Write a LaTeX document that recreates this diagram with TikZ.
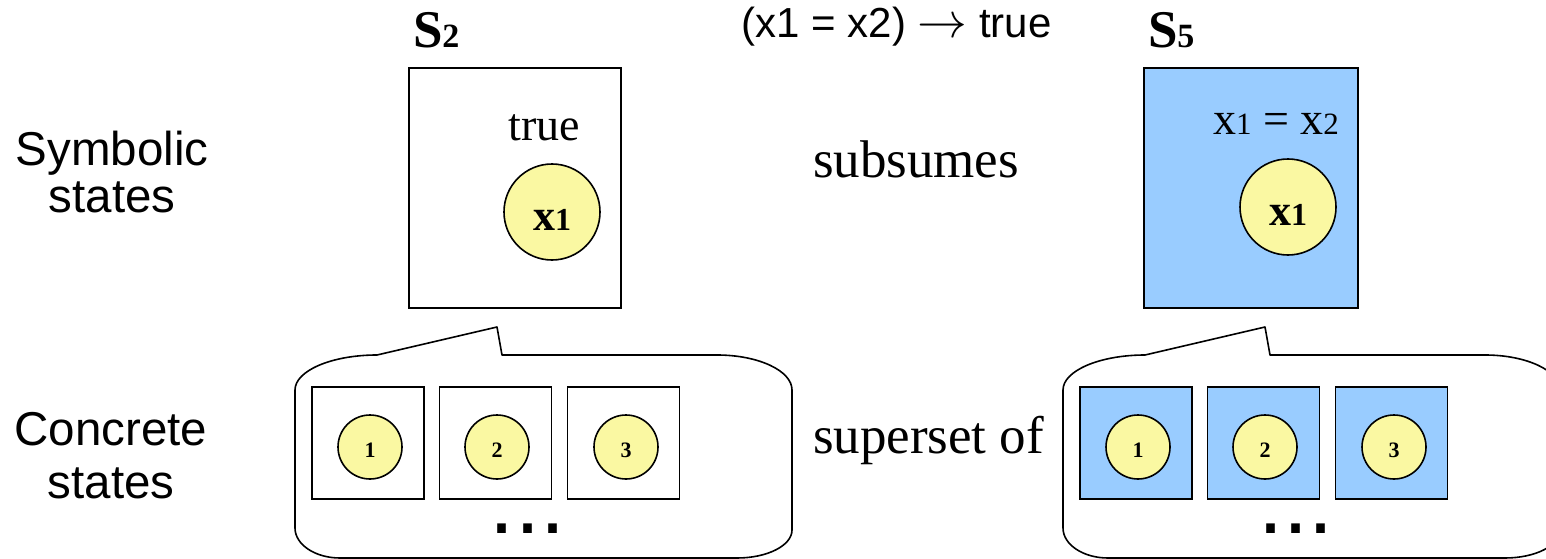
\documentclass[tikz,border=0pt]{standalone}
\usepackage{fontspec}
\usepackage{graphicx}
\setmainfont{Liberation Serif}
\newfontfamily\arialfont{Liberation Sans}
\definecolor{lblue}{HTML}{99CCFF}
\definecolor{lyellow}{HTML}{FAF8A2}
\tikzset{
  box/.style={draw, line width=1.6pt, inner sep=0pt},
  circ/.style={circle, draw, line width=1.6pt, fill=lyellow, inner sep=0pt},
  txt/.style={inner sep=0pt, outer sep=0pt},
  bubble/.style={draw, line width=1.6pt, line join=round},
}
\newcommand{\concretegroup}[3]{%
  \begin{scope}[xshift=#2]
    \draw[bubble] (295,390) .. controls (295,370.7) and (331.7,355) .. (377,355)
      -- (497,327) -- (502,355) -- (717,355)
      .. controls (758.4,355) and (792,370.7) .. (792,390) -- (792,530)
      .. controls (792,545.5) and (767.4,558) .. (737,558) -- (340,558)
      .. controls (315.2,558) and (295,544.6) .. (295,528) -- cycle;
    \node[box, fill=#3, minimum width=112pt, minimum height=112pt] (#1b1) at (368,443) {};
    \node[box, fill=#3, minimum width=112pt, minimum height=112pt] (#1b2) at (495.5,443) {};
    \node[box, fill=#3, minimum width=112pt, minimum height=112pt] (#1b3) at (623.5,443) {};
    \node[circ, minimum size=64pt] (#1c1) at (370,447) {};
    \node[circ, minimum size=64pt] (#1c2) at (497,447) {};
    \node[circ, minimum size=64pt] (#1c3) at (626,447) {};
    \node[txt, anchor=base] (#1n1) at (370,457) {\fontsize{22}{22}\selectfont\bfseries 1};
    \node[txt, anchor=base] (#1n2) at (497,457) {\fontsize{22}{22}\selectfont\bfseries 2};
    \node[txt, anchor=base] (#1n3) at (626,457) {\fontsize{22}{22}\selectfont\bfseries 3};
    \node[txt, anchor=base] (#1dots) at (527.5,533) {\arialfont\fontsize{90}{90}\selectfont ...};
  \end{scope}}
\begin{document}
\begin{tikzpicture}[x=1pt, y=-1pt]
\useasboundingbox (0,0) rectangle (1546,559);
\clip (0,0) rectangle (1546,559);
\fill[white] (0,0) rectangle (1546,559);

% left labels
\node[txt, anchor=base] (sym1) at (112,165) {\arialfont\fontsize{47.5}{47}\selectfont Symbolic};
\node[txt, anchor=base] (sym2) at (112,212) {\arialfont\fontsize{47.5}{47}\selectfont states};
\node[txt, anchor=base] (con1) at (111,445) {\arialfont\fontsize{47.5}{47}\selectfont Concrete};
\node[txt, anchor=base] (con2) at (111,498) {\arialfont\fontsize{47.5}{47}\selectfont states};

% symbolic state S2
\node[txt, anchor=base west] (s2lbl) at (413,48) {\fontsize{53}{53}\selectfont\bfseries S{\fontsize{34}{34}\selectfont 2}};
\node[box, anchor=north west, minimum width=212pt, minimum height=240pt] (s2box) at (408,67) {};
\node[txt, anchor=base] (s2true) at (544,140) {\fontsize{46}{46}\selectfont true};
\node[circ, minimum size=96pt] (s2c) at (552,212) {};
\node[txt, anchor=base] (s2x) at (552,230) {\fontsize{44}{44}\selectfont\bfseries x{\fontsize{32}{32}\selectfont 1}};

% symbolic state S5
\node[txt, anchor=base west] (s5lbl) at (1148,48) {\fontsize{53}{53}\selectfont\bfseries S{\fontsize{34}{34}\selectfont 5}};
\node[box, fill=lblue, anchor=north west, minimum width=214pt, minimum height=240pt] (s5box) at (1143,67) {};
\node[txt, anchor=base] (s5eq) at (1276,135) {\fontsize{46}{46}\selectfont x{\fontsize{31}{31}\selectfont 1} = x{\fontsize{31}{31}\selectfont 2}};
\node[circ, minimum size=96pt] (s5c) at (1288,207) {};
\node[txt, anchor=base] (s5x) at (1288,225) {\fontsize{44}{44}\selectfont\bfseries x{\fontsize{32}{32}\selectfont 1}};

% middle texts
\node[txt, anchor=base] (impl) at (896.5,38) {\arialfont\fontsize{42}{42}\selectfont (x1 = x2) \scalebox{2}{\fontsize{24.88}{24.88}\selectfont$\rightarrow$} true};
\node[txt, anchor=base west] (subs) at (813,177) {\fontsize{53}{53}\selectfont subsumes};
\node[txt, anchor=base west] (supset) at (813,453) {\fontsize{53}{53}\selectfont superset of};

% concrete states
\concretegroup{L}{0}{white}
\concretegroup{R}{768}{lblue}
\end{tikzpicture}
\end{document}
